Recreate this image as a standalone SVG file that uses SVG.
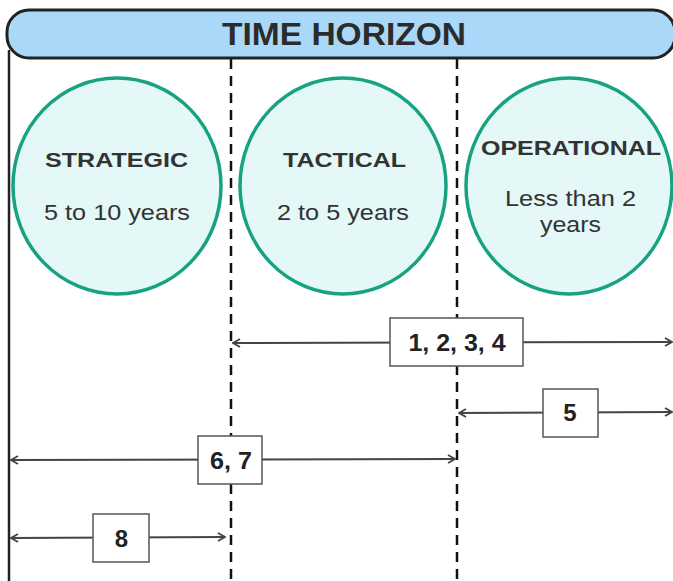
<svg xmlns="http://www.w3.org/2000/svg" width="673" height="581" viewBox="0 0 673 581">
  <style>
    .title { font-family: "Liberation Sans", Arial, sans-serif; font-weight: bold; font-size: 31px; fill: #2b2b2b; text-anchor: middle; }
    .head { font-family: "Liberation Sans", Arial, sans-serif; font-weight: bold; font-size: 20px; fill: #333; text-anchor: middle; }
    .sub { font-family: "Liberation Sans", Arial, sans-serif; font-size: 22px; fill: #333; text-anchor: middle; }
    .lbl { font-family: "Liberation Sans", Arial, sans-serif; font-weight: bold; font-size: 24px; fill: #222; text-anchor: middle; }
    .phase { fill: #e3f8f7; stroke: #17a282; stroke-width: 3.5; }
    .divider { stroke: #111; stroke-width: 2.5; stroke-dasharray: 10 7; fill: none; }
    .span { stroke: #444; stroke-width: 2; fill: none; marker-start: url(#arrL); marker-end: url(#arrR); }
    .box { fill: #fff; stroke: #555; stroke-width: 1.5; }
  </style>
  <defs>
    <marker id="arrR" viewBox="0 0 10 10" refX="9" refY="5" markerWidth="10" markerHeight="10" markerUnits="userSpaceOnUse" orient="auto">
      <path d="M2,1 L9,5 L2,9" fill="none" stroke="#444" stroke-width="1.8"/>
    </marker>
    <marker id="arrL" viewBox="0 0 10 10" refX="1" refY="5" markerWidth="10" markerHeight="10" markerUnits="userSpaceOnUse" orient="auto">
      <path d="M8,1 L1,5 L8,9" fill="none" stroke="#444" stroke-width="1.8"/>
    </marker>
  </defs>

  <rect width="673" height="581" fill="#fff"/>

  <!-- frame and column dividers -->
  <g id="dividers">
    <line x1="9" y1="50" x2="9" y2="581" stroke="#222" stroke-width="2.5"/>
    <line class="divider" x1="231" y1="59" x2="231" y2="581"/>
    <line class="divider" x1="457" y1="59" x2="457" y2="581"/>
  </g>

  <!-- header bar -->
  <g id="header">
    <rect x="7" y="10" width="668" height="48" rx="22" ry="22" fill="#aad8f8" stroke="#222" stroke-width="3"/>
    <text class="title" x="344" y="45" textLength="244" lengthAdjust="spacingAndGlyphs">TIME HORIZON</text>
  </g>

  <g id="strategic">
    <ellipse class="phase" cx="117" cy="186" rx="104" ry="108"/>
    <text class="head" x="116.5" y="167" textLength="143" lengthAdjust="spacingAndGlyphs">STRATEGIC</text>
    <text class="sub" x="117" y="220" textLength="146" lengthAdjust="spacingAndGlyphs">5 to 10 years</text>
  </g>

  <g id="tactical">
    <ellipse class="phase" cx="343" cy="186" rx="103" ry="108"/>
    <text class="head" x="344.5" y="167" textLength="123" lengthAdjust="spacingAndGlyphs">TACTICAL</text>
    <text class="sub" x="343" y="220" textLength="132" lengthAdjust="spacingAndGlyphs">2 to 5 years</text>
  </g>

  <g id="operational">
    <ellipse class="phase" cx="569" cy="186" rx="103" ry="108"/>
    <text class="head" x="571" y="155" textLength="180" lengthAdjust="spacingAndGlyphs">OPERATIONAL</text>
    <text class="sub" x="570.5" y="206" textLength="131" lengthAdjust="spacingAndGlyphs">Less than 2</text>
    <text class="sub" x="570.5" y="232" textLength="61" lengthAdjust="spacingAndGlyphs">years</text>
  </g>

  <!-- spans -->
  <g id="connectors">
    <line class="span" x1="233" y1="343" x2="672" y2="342"/>
    <line class="span" x1="459" y1="413" x2="672" y2="412"/>
    <line class="span" x1="11" y1="460" x2="455" y2="459"/>
    <line class="span" x1="11" y1="538" x2="225" y2="537"/>
  </g>

  <g id="span-1-4">
    <rect class="box" x="390" y="318" width="133" height="48"/>
    <text class="lbl" x="457" y="351" textLength="97" lengthAdjust="spacingAndGlyphs">1, 2, 3, 4</text>
  </g>
  <g id="span-5">
    <rect class="box" x="543" y="389" width="55" height="48"/>
    <text class="lbl" x="570" y="421">5</text>
  </g>
  <g id="span-6-7">
    <rect class="box" x="198" y="436" width="64" height="48"/>
    <text class="lbl" x="231" y="469" textLength="42" lengthAdjust="spacingAndGlyphs">6, 7</text>
  </g>
  <g id="span-8">
    <rect class="box" x="93" y="514" width="56" height="48"/>
    <text class="lbl" x="121.5" y="547">8</text>
  </g>
</svg>
